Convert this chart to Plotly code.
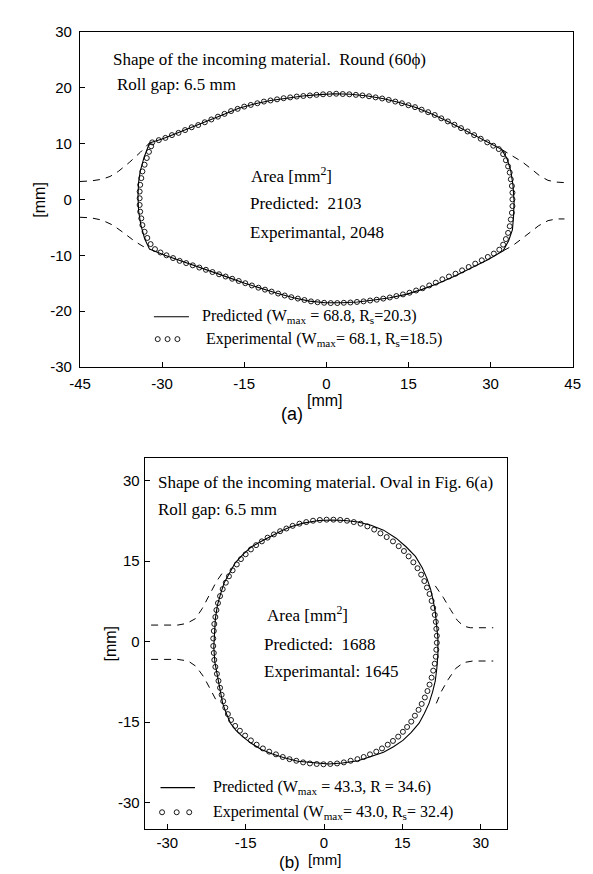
import plotly.graph_objects as go

# ================= panel (a): round 60 phi =================
A_XTICKS = [-45, -30, -15, 0, 15, 30, 45]
A_XTICKTEXT = ["-45", "-30", "-15", "0", "15", "30", "45"]
A_YTICKS = [-30, -20, -10, 0, 10, 20, 30]
A_YTICKTEXT = ["-30", "-20", "-10", "0", "10", "20", "30"]

A_PRED_X = [-32.3, -30.0, -27.9, -25.0, -22.0, -19.0, -16.0, -13.0, -10.2, -7.2, -4.3, -1.3, 1.6, 4.5, 7.5, 10.5,
            13.5, 16.5, 19.5, 22.5, 25.5, 28.5, 32.0,
            33.0, 33.7, 34.1, 34.3, 34.2, 34.0, 33.3, 32.3,
            29.5, 26.4, 23.5, 20.5, 17.5, 14.6, 11.6, 8.7, 5.7, 2.8, -0.2, -3.1, -6.0, -9.0, -12.0, -14.9,
            -17.8, -20.8, -23.7, -26.7, -29.5, -32.3,
            -33.2, -33.9, -34.3, -34.4, -34.3, -34.0, -33.3, -32.3]
A_PRED_Y = [10.1, 10.8, 11.6, 12.7, 13.9, 15.1, 16.3, 17.1, 17.7, 18.15, 18.5, 18.75, 18.9, 18.8, 18.5, 18.0,
            17.3, 16.4, 15.2, 13.8, 12.3, 10.7, 8.95,
            7.3, 5.1, 2.5, -0.4, -3.0, -5.4, -7.4, -9.2,
            -10.8, -12.3, -13.7, -15.0, -16.1, -17.0, -17.6, -18.0, -18.35, -18.5, -18.5, -18.2, -17.6, -16.8, -15.9, -15.0,
            -14.0, -13.0, -12.0, -11.0, -10.0, -8.9,
            -7.0, -4.5, -2.0, 0.5, 3.0, 5.0, 7.5, 10.1]

A_EXP_X = [-31.8, -30.6, -29.4, -28.2, -27.0, -25.8, -24.6, -23.4, -22.2, -21.0, -19.8, -18.6, -17.4, -16.2,
           -15.0, -13.8, -12.6, -11.4, -10.2, -9.0, -7.8, -6.6, -5.4, -4.2, -3.0, -1.8, -0.6, 0.6, 1.8, 3.0,
           4.2, 5.4, 6.6, 7.8, 9.0, 10.2, 11.4, 12.6, 13.8, 15.0, 16.2, 17.4, 18.6, 19.8, 21.0, 22.2, 23.4,
           24.6, 25.8, 27.0, 28.2, 29.4, 30.5, 31.5,
           32.3, 32.8, 33.2, 33.5, 33.7, 33.9, 34.0, 34.0, 34.0, 33.9, 33.7, 33.5, 33.2, 32.8, 32.3, 31.6,
           30.6, 29.5, 28.4, 27.2, 26.0, 24.8, 23.6, 22.4, 21.2, 20.0, 18.8, 17.6, 16.4, 15.2, 14.0, 12.8,
           11.6, 10.4, 9.2, 8.0, 6.8, 5.6, 4.4, 3.2, 2.0, 0.8, -0.4, -1.6, -2.8, -4.0, -5.2, -6.4, -7.6,
           -8.8, -10.0, -11.2, -12.4, -13.6, -14.8, -16.0, -17.2, -18.4, -19.6, -20.8, -22.0, -23.2, -24.4,
           -25.6, -26.8, -28.0, -29.2, -30.3, -31.3,
           -32.1, -32.7, -33.2, -33.6, -33.8, -34.0, -34.1, -34.1, -34.1, -34.0, -33.8, -33.6, -33.2, -32.8,
           -32.4, -32.0]
A_EXP_Y = [10.2, 10.6, 11.0, 11.5, 11.9, 12.4, 12.9, 13.3, 13.8, 14.3, 14.8, 15.3, 15.8, 16.2,
           16.6, 16.9, 17.2, 17.5, 17.7, 17.9, 18.1, 18.25, 18.4, 18.5, 18.6, 18.7, 18.8, 18.85, 18.9, 18.85,
           18.8, 18.7, 18.6, 18.45, 18.25, 18.05, 17.8, 17.5, 17.2, 16.85, 16.5, 16.05, 15.6, 15.1, 14.5, 13.95, 13.35,
           12.75, 12.15, 11.5, 10.85, 10.2, 9.6, 9.0,
           8.1, 7.0, 5.9, 4.8, 3.6, 2.4, 1.2, 0.0, -1.2, -2.4, -3.6, -4.8, -6.0, -7.1, -8.1, -9.0,
           -9.7, -10.3, -10.9, -11.5, -12.1, -12.7, -13.3, -13.8, -14.3, -14.9, -15.4, -15.9, -16.3, -16.7, -17.0, -17.3,
           -17.55, -17.75, -17.95, -18.1, -18.25, -18.35, -18.45, -18.5, -18.55, -18.55, -18.5, -18.4, -18.25, -18.0,
           -17.75, -17.5, -17.2,
           -16.85, -16.5, -16.15, -15.8, -15.4, -15.0, -14.6, -14.2, -13.8, -13.4, -13.0, -12.6, -12.2, -11.8,
           -11.4, -11.0, -10.5, -10.0, -9.5, -8.9,
           -8.0, -6.9, -5.8, -4.6, -3.4, -2.2, -1.0, 0.2, 1.4, 2.6, 3.8, 5.0, 6.2, 7.4,
           8.5, 9.5]

# roll groove outline (dashed), four pieces separated by None
A_ROLL_X = [-45, -43, -41, -39.5, -38, -36, -34, -32.3, None,
            32.0, 34, 35.8, 37.5, 39.0, 40.5, 42, 43.5, None,
            32.3, 34, 35.5, 37.2, 38.8, 40.5, 42, 43.5, None,
            -45, -43, -41, -39, -37, -35, -33.5, -32.3]
A_ROLL_Y = [3.2, 3.3, 3.6, 4.1, 5.0, 6.6, 8.4, 10.1, None,
            8.95, 7.8, 6.7, 5.4, 4.2, 3.4, 3.1, 3.0, None,
            -9.2, -8.3, -7.2, -5.9, -4.7, -3.8, -3.5, -3.5, None,
            -3.2, -3.3, -3.7, -4.6, -6.0, -7.5, -8.4, -8.9]

# ================= panel (b): oval in Fig. 6(a) =================
B_XTICKS = [-30, -15, 0, 15, 30]
B_XTICKTEXT = ["-30", "-15", "0", "15", "30"]
B_YTICKS = [-30, -15, 0, 15, 30]
B_YTICKTEXT = ["-30", "-15", "0", "15", "30"]

B_PRED_X = [1.5, -1.0, -4.0, -6.5, -8.3, -10.0, -11.8, -13.9, -15.6, -17.0, -18.1, -19.1, -19.8, -20.4, -20.8,
            -21.0, -21.1, -20.9, -20.4, -19.9, -19.4, -18.7, -17.9, -16.9, -15.7, -14.0, -12.0, -10.0, -7.8,
            -5.0, -2.2, 0.9, 3.5, 6.5, 9.0, 11.4, 13.3, 15.1, 16.7, 18.2, 19.2, 20.1, 20.8, 21.3, 21.6, 21.8,
            21.8, 21.6, 21.3, 20.9, 20.4, 19.7, 18.8, 17.5, 15.7, 13.8, 11.4, 9.0, 6.5, 4.0, 1.5]
B_PRED_Y = [22.7, 22.6, 22.1, 21.4, 20.6, 19.8, 18.8, 17.7, 16.2, 14.7, 12.9, 11.0, 8.9, 6.8, 4.3,
            1.9, -1.0, -3.8, -6.6, -9.0, -11.5, -13.4, -15.2, -16.5, -17.6, -18.9, -20.1, -20.9, -21.6,
            -22.3, -22.6, -22.8, -22.6, -22.2, -21.4, -20.6, -19.6, -18.4, -16.9, -15.2, -13.4, -11.5, -9.3, -7.3, -4.9, -2.4,
            0.7, 3.1, 5.5, 7.7, 9.8, 11.8, 13.8, 15.9, 17.7, 19.3, 20.8, 21.7, 22.3, 22.6, 22.7]

B_EXP_X = [0.5, -0.8, -2.1, -3.4, -4.7, -6.0, -7.2, -8.4, -9.6, -10.8, -11.9, -13.0, -14.0, -15.0, -15.9,
           -16.7, -17.5, -18.2, -18.8, -19.4, -19.9, -20.3, -20.6, -20.8, -21.0, -21.1, -21.2,
           -21.2, -21.1, -21.0, -20.8, -20.5, -20.2, -19.9, -19.6, -19.3, -18.9, -18.4, -17.8, -17.0, -16.1,
           -15.1, -14.0, -12.9, -11.7, -10.5, -9.2, -7.9, -6.6, -5.3, -4.0, -2.7, -1.4, -0.1,
           1.2, 2.5, 3.8, 5.1, 6.4, 7.6, 8.8, 10.0, 11.1, 12.2, 13.2, 14.2, 15.1, 15.9, 16.7, 17.4, 18.1,
           18.7, 19.3, 19.8, 20.2, 20.6, 20.9, 21.2, 21.4, 21.5, 21.6,
           21.6, 21.5, 21.4, 21.2, 20.9, 20.6, 20.2, 19.7, 19.2, 18.6, 17.9, 17.1, 16.2, 15.3, 14.3, 13.2,
           12.0, 10.8, 9.6, 8.3, 7.0, 5.7, 4.4, 3.1, 1.8]
B_EXP_Y = [22.75, 22.7, 22.55, 22.3, 22.0, 21.6, 21.1, 20.6, 20.0, 19.4, 18.7, 18.0, 17.2, 16.3, 15.4,
           14.4, 13.3, 12.2, 11.0, 9.8, 8.5, 7.2, 5.9, 4.6, 3.3, 2.0, 0.6,
           -0.8, -2.1, -3.4, -4.7, -6.0, -7.3, -8.6, -9.9, -11.1, -12.3, -13.5, -14.6, -15.7, -16.6,
           -17.5, -18.4, -19.2, -19.9, -20.5, -21.0, -21.5, -21.9, -22.2, -22.5, -22.7, -22.8, -22.85,
           -22.8, -22.7, -22.5, -22.2, -21.9, -21.5, -21.0, -20.5, -19.9, -19.2, -18.5, -17.7, -16.8, -15.9, -14.9, -13.8, -12.7,
           -11.6, -10.4, -9.2, -8.0, -6.7, -5.4, -4.1, -2.8, -1.5, -0.2,
           1.1, 2.4, 3.7, 5.0, 6.3, 7.6, 8.9, 10.1, 11.3, 12.5, 13.7, 14.8, 15.9, 16.9, 17.8, 18.7,
           19.5, 20.2, 20.9, 21.5, 22.0, 22.3, 22.55, 22.7, 22.75]

B_ROLL_X = [-33.1, -28, -26.3, -24.6, -23.3, -22, -20.6, -19.4, None,
            21.3, 22.8, 24.2, 25.5, 26.7, 28, 32.4, None,
            21.5, 22.5, 23.8, 25.2, 26.7, 28.5, 32.4, None,
            -33.1, -28, -26, -24.5, -23, -21.8, -20.6]
B_ROLL_Y = [3.1, 3.1, 3.4, 4.3, 6.2, 8.7, 11.2, 12.9, None,
            10.4, 8.3, 6.0, 4.0, 2.9, 2.6, 2.6, None,
            -11.5, -9.2, -7.0, -5.0, -3.9, -3.6, -3.6, None,
            -3.3, -3.3, -3.6, -4.6, -6.6, -8.8, -11.0]

# legend glyph positions (data units of each panel)
A_LEG_LINE_X = [-31.5, -25.1]
A_LEG_LINE_Y = [-21.0, -21.0]
A_LEG_CIRC_X = [-30.8, -29.0, -27.2]
A_LEG_CIRC_Y = [-25.0, -25.0, -25.0]
B_LEG_LINE_X = [-31.3, -24.7]
B_LEG_LINE_Y = [-27.2, -27.2]
B_LEG_CIRC_X = [-31.0, -28.2, -25.8]
B_LEG_CIRC_Y = [-31.8, -31.8, -31.8]

SERIF = "Liberation Serif, Times New Roman, serif"
SANS = "Liberation Sans, Arial, sans-serif"
BLACK = "#000000"

fig = go.Figure()

def add_panel(px, py, ex, ey, rx, ry, llx, lly, lcx, lcy, xa, ya):
    fig.add_trace(go.Scatter(x=rx, y=ry, mode="lines", xaxis=xa, yaxis=ya,
                             line=dict(color=BLACK, width=1, dash="7px,6px"), showlegend=False,
                             connectgaps=False, hoverinfo="skip"))
    fig.add_trace(go.Scatter(x=px, y=py, mode="lines", xaxis=xa, yaxis=ya,
                             line=dict(color=BLACK, width=1.1), showlegend=False))
    fig.add_trace(go.Scatter(x=ex, y=ey, mode="markers", xaxis=xa, yaxis=ya,
                             marker=dict(symbol="circle-open", size=5, color=BLACK, line=dict(width=0.9)),
                             showlegend=False))
    fig.add_trace(go.Scatter(x=llx, y=lly, mode="lines", xaxis=xa, yaxis=ya,
                             line=dict(color=BLACK, width=1.1), showlegend=False, hoverinfo="skip"))
    fig.add_trace(go.Scatter(x=lcx, y=lcy, mode="markers", xaxis=xa, yaxis=ya,
                             marker=dict(symbol="circle-open", size=5, color=BLACK, line=dict(width=0.9)),
                             showlegend=False, hoverinfo="skip"))

add_panel(A_PRED_X, A_PRED_Y, A_EXP_X, A_EXP_Y, A_ROLL_X, A_ROLL_Y,
          A_LEG_LINE_X, A_LEG_LINE_Y, A_LEG_CIRC_X, A_LEG_CIRC_Y, "x", "y")
add_panel(B_PRED_X, B_PRED_Y, B_EXP_X, B_EXP_Y, B_ROLL_X, B_ROLL_Y,
          B_LEG_LINE_X, B_LEG_LINE_Y, B_LEG_CIRC_X, B_LEG_CIRC_Y, "x2", "y2")

axis_common = dict(showgrid=False, zeroline=False, showline=True, linecolor=BLACK, linewidth=1.3,
                   mirror=True, ticks="inside", ticklen=5, tickwidth=1, tickcolor=BLACK,
                   tickfont=dict(family=SANS, size=15, color=BLACK), fixedrange=True)

fig.update_layout(
    width=593, height=874, margin=dict(l=0, r=0, t=0, b=0),
    paper_bgcolor="white", plot_bgcolor="white", showlegend=False,
    xaxis=dict(domain=[0.10624, 0.96459], range=[-45, 45], anchor="y",
               tickvals=A_XTICKS, ticktext=A_XTICKTEXT, ticklabelstandoff=3, **axis_common),
    yaxis=dict(domain=[0.59153, 0.98284], range=[-30, 30], anchor="x",
               tickvals=A_YTICKS, ticktext=A_YTICKTEXT, ticklabelstandoff=4, **axis_common),
    xaxis2=dict(domain=[0.21922, 0.84991], range=[-34.3, 35.0], anchor="y2",
                tickvals=B_XTICKS, ticktext=B_XTICKTEXT, ticklabelstandoff=0, **axis_common),
    yaxis2=dict(domain=[0.05263, 0.48513], range=[-34.9, 34.2], anchor="x2",
                tickvals=B_YTICKS, ticktext=B_YTICKTEXT, ticklabelstandoff=1, **axis_common),
)

def txt(x, y, s, xr, yr, size=17, family=SERIF, anchor="left", angle=0):
    fig.add_annotation(x=x, y=y, xref=xr, yref=yr, text=s, showarrow=False, xanchor=anchor,
                       yanchor="middle", textangle=angle,
                       font=dict(family=family, size=size, color=BLACK))

# panel (a) texts
txt(-39.3, 25.1, "Shape of the incoming material.  Round (60ϕ)", "x", "y", 17)
txt(-38.6, 20.6, "Roll gap: 6.5 mm", "x", "y", 17)
txt(-14.2, 4.4, "Area [mm<sup>2</sup>]", "x", "y", 17)
txt(-14.4, -0.8, "Predicted:  2103", "x", "y", 17)
txt(-14.4, -6.0, "Experimantal, 2048", "x", "y", 17)
txt(-23.0, -21.0, "Predicted (W<sub>max</sub> = 68.8, R<sub>s</sub>=20.3)", "x", "y", 16)
txt(-22.4, -25.0, "Experimental (W<sub>max</sub>= 68.1, R<sub>s</sub>=18.5)", "x", "y", 16)

# panel (b) texts
txt(-32.2, 29.6, "Shape of the incoming material. Oval in Fig. 6(a)", "x2", "y2", 17)
txt(-32.2, 24.7, "Roll gap: 6.5 mm", "x2", "y2", 17)
txt(-11.3, 5.1, "Area [mm<sup>2</sup>]", "x2", "y2", 17)
txt(-11.85, -0.55, "Predicted:  1688", "x2", "y2", 17)
txt(-11.85, -5.6, "Experimantal: 1645", "x2", "y2", 17)
txt(-21.6, -27.2, "Predicted (W<sub>max</sub> = 43.3, R = 34.6)", "x2", "y2", 16)
txt(-21.6, -31.8, "Experimental (W<sub>max</sub>= 43.0, R<sub>s</sub>= 32.4)", "x2", "y2", 16)

# axis titles and panel labels
txt(0.0354, 0.7872, "[mm]", "paper", "paper", 16, SANS, "center", -90)
txt(0.5339, 0.5530, "[mm]", "paper", "paper", 16, SANS, "center")
txt(0.4749, 0.5370, "(a)", "paper", "paper", 18, SANS, "center")
txt(0.1602, 0.2689, "[mm]", "paper", "paper", 16, SANS, "center", -90)
txt(0.5330, 0.0172, "[mm]", "paper", "paper", 15, SANS, "center")
txt(0.4705, 0.0130, "(b)", "paper", "paper", 17, SANS, "center")

fig.write_html("out.html")
